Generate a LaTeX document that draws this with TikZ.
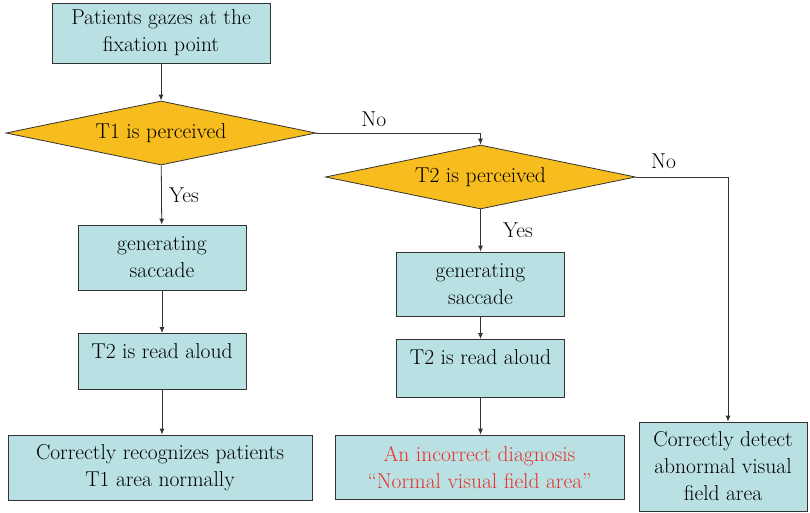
\documentclass[tikz,border=0pt]{standalone}
\usetikzlibrary{shapes.geometric,arrows.meta}
\definecolor{boxcyan}{HTML}{B9E0E2}
\definecolor{diamorange}{HTML}{F7BC1D}
\definecolor{diagred}{HTML}{E8322B}
\begin{document}
\begin{tikzpicture}[x=1pt,y=-1pt,
  font=\rmfamily\fontsize{21.5}{27}\selectfont,
  box/.style={draw=black!80,line width=0.8pt,fill=boxcyan,align=center,inner sep=0pt},
  decision/.style={draw=black!80,line width=0.8pt,fill=diamorange,diamond,aspect=4.8,inner sep=0pt,
    minimum width=310,minimum height=64},
  arr/.style={draw=black!80,line width=0.8pt,-{Latex[length=6pt,width=5pt]}}]
\useasboundingbox (0,0) rectangle (810,513);

% left column
\node[box,minimum width=218,minimum height=60] (start) at (161,33) {Patients gazes at the\\fixation point};
\node[decision] (t1) at (161,133) {T1 is perceived};
\node[box,minimum width=168,minimum height=65] (sacA) at (162,257.5) {generating\\saccade};
\node[box,minimum width=168,minimum height=56,anchor=north,text height=25pt,text depth=31pt] (readA) at (162,333) {T2 is read aloud};
\node[box,minimum width=304,minimum height=65] (resA) at (160,467.5) {Correctly recognizes patients\\T1 area normally};

% middle column
\node[decision] (t2) at (480.5,177) {T2 is perceived};
\node[box,minimum width=168,minimum height=64] (sacB) at (480.5,284) {generating\\saccade};
\node[box,minimum width=168,minimum height=58,anchor=north,text height=25pt,text depth=33pt] (readB) at (480.5,339) {T2 is read aloud};
\node[box,minimum width=289,minimum height=64,text=diagred] (resB) at (479.5,467) {An incorrect diagnosis\\``Normal visual field area''};

% right column
\node[box,minimum width=168,minimum height=89] (resC) at (723,466.5) {Correctly detect\\abnormal visual\\field area};

\draw[arr] (start) -- (t1);
\draw[arr] (t1) -- node[right,xshift=4pt] {Yes} (sacA);
\draw[arr] (sacA) -- (readA);
\draw[arr] (readA) -- (readA|-resA.north);
\draw[arr] (t1.east) -| node[above,pos=0.175,yshift=3pt] {No} (t2.north);
\draw[arr] (t2) -- node[right,pos=0.49,xshift=19pt] {Yes} (sacB);
\draw[arr] (sacB) -- (readB);
\draw[arr] (readB) -- (readB|-resB.north);
\draw[arr] (t2.east) -| node[above,pos=0.15,yshift=5pt] {No} ([xshift=5pt]resC.north);

\end{tikzpicture}
\end{document}
